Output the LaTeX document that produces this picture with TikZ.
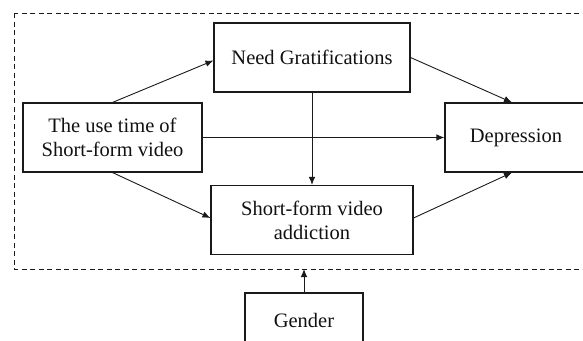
\documentclass[tikz,border=0pt]{standalone}
\usepackage{fontspec}
\setmainfont{Liberation Serif}
\usepackage{tikz}
\usetikzlibrary{positioning,arrows.meta,calc}
\definecolor{cLine}{HTML}{1A1A1A}
\definecolor{cText}{HTML}{111111}

\tikzset{
  varbox/.style={draw=cLine, line width=1.1pt, align=center, text=cText,
    minimum height=69pt, inner sep=2pt},
  link/.style={draw=cLine, line width=0.9pt, -{Latex[length=8pt,width=6.5pt]}},
  frame/.style={draw=cLine, line width=0.8pt, dash pattern=on 5pt off 3.5pt}
}

\begin{document}
\begin{tikzpicture}[x=1pt, y=-1pt, font=\fontsize{20.5}{24}\selectfont]
    \useasboundingbox (0,0) rectangle (583,340);
    \clip (0,0) rectangle (583,340);

    % --- dashed frame round the model ---------------------------------
    \draw[frame] (14,13) rectangle (610,269);
    \coordinate (mod) at (304,269);

    % --- variables ----------------------------------------------------
    \node[varbox, minimum width=179pt] (use)  at (112.5,137.5) {The use time of\\Short-form video};
    \node[varbox, minimum width=196pt] (need) at (312,57.5)    {Need Gratifications};
    \node[varbox, minimum width=202pt] (addi) at (312,220)     {Short-form video\\addiction};
    \node[varbox, minimum width=150pt] (dep)  at (520,137.5)   {\hspace*{-8pt}Depression};
    \node[varbox, minimum width=118pt, minimum height=54pt] (gend) at (304,320) {Gender};

    % --- paths --------------------------------------------------------
    \draw[link] (use.north) -- ([yshift=-3pt]need.west);
    \draw[link] (need.east) -- ([xshift=-8pt]dep.north);
    \draw[link] (use.east) -- (dep.west);
    \draw[link] (need.south) -- (addi.north);
    \draw[link] (use.south) -- ([yshift=2pt]addi.west);
    \draw[link] ([yshift=2pt]addi.east) -- ([xshift=-8pt]dep.south);
    \draw[link] (gend.north) -- (mod);
  \end{tikzpicture}
\end{document}
